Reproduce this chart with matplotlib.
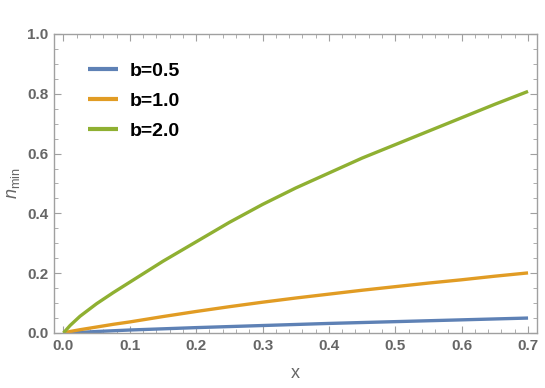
import matplotlib
matplotlib.use("Agg")
import matplotlib.pyplot as plt
from matplotlib.ticker import MultipleLocator

# values
x = [0, 0.01, 0.025, 0.05, 0.075, 0.1, 0.15, 0.2, 0.25, 0.3, 0.35, 0.4, 0.45, 0.5, 0.55, 0.6, 0.65, 0.7]
n_b05 = [0, 0.001, 0.002, 0.005, 0.0075, 0.010, 0.014, 0.018, 0.0215, 0.025, 0.0285, 0.032, 0.035, 0.038, 0.041, 0.044, 0.047, 0.050]
n_b10 = [0, 0.005, 0.011, 0.020, 0.029, 0.037, 0.055, 0.072, 0.088, 0.103, 0.117, 0.130, 0.143, 0.155, 0.167, 0.178, 0.190, 0.201]
n_b20 = [0, 0.025, 0.056, 0.098, 0.135, 0.170, 0.240, 0.305, 0.370, 0.430, 0.485, 0.535, 0.585, 0.630, 0.675, 0.720, 0.765, 0.808]

labels = ["b=0.5", "b=1.0", "b=2.0"]
colors = ["#5E81B5", "#E19C24", "#8FB032"]
frame_col = "#a0a0a0"
text_col = "#666666"

plt.rcParams["font.family"] = ["Liberation Sans", "DejaVu Sans"]
plt.rcParams["mathtext.fontset"] = "custom"
plt.rcParams["mathtext.it"] = "Liberation Sans:italic"
plt.rcParams["mathtext.rm"] = "Liberation Sans"

fig = plt.figure(figsize=(5.45, 3.88), dpi=100)
ax = fig.add_axes([54 / 545, 1 - 333 / 388, 483 / 545, 299 / 388])

for ys, lab, c in zip([n_b05, n_b10, n_b20], labels, colors):
    ax.plot(x, ys, color=c, lw=2.4, label=lab, solid_capstyle="butt")

ax.set_xlim(-0.0142, 0.7135)
ax.set_ylim(0, 1.0)

ax.xaxis.set_major_locator(MultipleLocator(0.1))
ax.xaxis.set_minor_locator(MultipleLocator(0.02))
ax.yaxis.set_major_locator(MultipleLocator(0.2))
ax.yaxis.set_minor_locator(MultipleLocator(0.05))
ax.xaxis.set_major_formatter(plt.FuncFormatter(lambda v, p: f"{v:.1f}"))
ax.yaxis.set_major_formatter(plt.FuncFormatter(lambda v, p: f"{v:.1f}"))

for s in ax.spines.values():
    s.set_color(frame_col)
    s.set_linewidth(1.0)

ax.tick_params(which="both", direction="in", top=True, right=True, color=frame_col)
ax.tick_params(which="major", length=5, width=0.8, labelsize=11, labelcolor=text_col, pad=4)
ax.tick_params(which="minor", length=2.8, width=0.6)
for t in ax.get_xticklabels() + ax.get_yticklabels():
    t.set_fontweight("bold")

ax.set_xlabel("x", fontsize=13, color=text_col, labelpad=9)
ax.set_ylabel(r"$n_{\mathrm{min}}$", fontsize=13, color=text_col, labelpad=4)

leg = ax.legend(loc="upper left", bbox_to_anchor=(0.035, 0.965), frameon=False,
                prop={"size": 14, "weight": "bold"}, handlelength=1.5,
                handletextpad=0.6, labelspacing=0.65)
for h in leg.get_lines():
    h.set_linewidth(3)

fig.savefig("out.png", dpi=100)
